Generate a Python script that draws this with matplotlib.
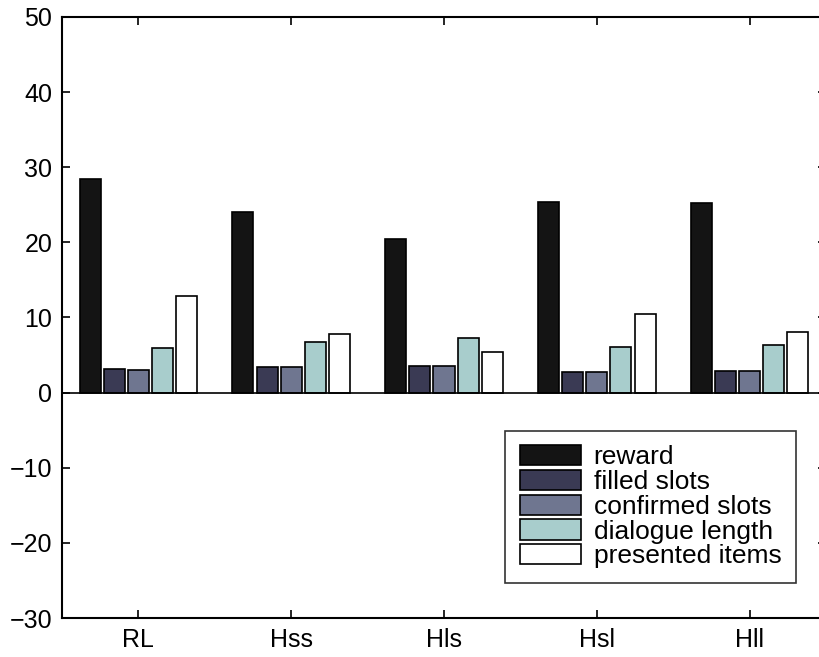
import matplotlib
matplotlib.use('Agg')
import numpy as np
from matplotlib import pyplot as plt

plt.rcParams['font.family'] = ['Liberation Sans', 'DejaVu Sans']

groups = ['RL', 'Hss', 'Hls', 'Hsl', 'Hll']
series = ['reward', 'filled slots', 'confirmed slots', 'dialogue length', 'presented items']
reward = [28.5, 24.1, 20.5, 25.4, 25.2]
filled_slots = [3.1, 3.4, 3.5, 2.8, 2.9]
confirmed_slots = [3.0, 3.4, 3.5, 2.8, 2.9]
dialogue_length = [5.9, 6.7, 7.3, 6.1, 6.3]
presented_items = [12.8, 7.8, 5.4, 10.5, 8.1]
colors = ['#141414', '#3a3a54', '#6f7690', '#a8cdcc', '#ffffff']

values = [reward, filled_slots, confirmed_slots, dialogue_length, presented_items]

fig = plt.figure(figsize=(8.2, 6.57), dpi=100)
ax = fig.add_axes([62/820, 1 - 618/657, 764/820, 601/657])

x = np.arange(1, len(groups) + 1)
step = 0.158
width = 0.138
for i, (name, vals, c) in enumerate(zip(series, values, colors)):
    ax.bar(x + (i - 2) * step, vals, width, color=c, edgecolor='black',
           linewidth=1.2, label=name)

ax.axhline(0, color='black', linewidth=1.2)
ax.set_xlim(0.5, 5.5)
ax.set_ylim(-30, 50)
ax.set_xticks(x)
ax.set_xticklabels(groups)
ax.set_yticks(np.arange(-30, 51, 10))
ax.tick_params(direction='in', length=6, width=1.2, labelsize=18,
               top=True, right=True, pad=7)
for s in ax.spines.values():
    s.set_linewidth(1.5)

# legend box right edge at x=796 px, bottom at y=583 px
leg = ax.legend(loc='lower right',
                bbox_to_anchor=((796 - 62) / 764, (618 - 583) / 601),
                fontsize=19, frameon=True, fancybox=False, edgecolor='black',
                handlelength=2.3, handleheight=0.8, labelspacing=0.02,
                handletextpad=0.5, borderpad=0.55, borderaxespad=0)
leg.get_frame().set_linewidth(1.2)

fig.savefig('out.png', dpi=100)
